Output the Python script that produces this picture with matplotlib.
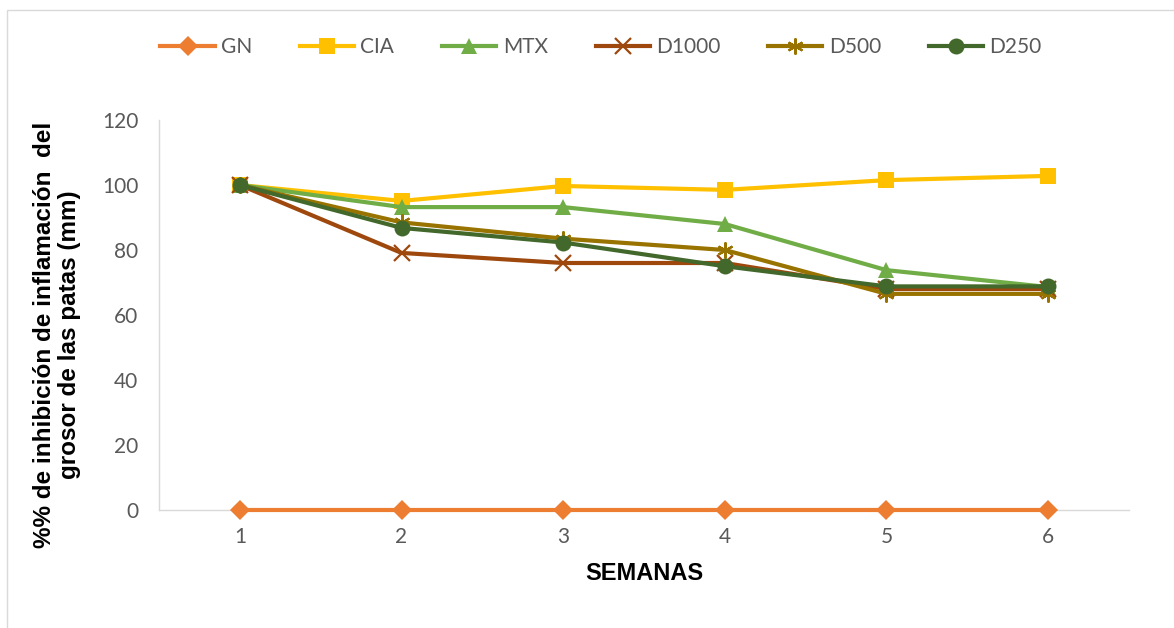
import matplotlib
matplotlib.use("Agg")
import matplotlib.pyplot as plt
from matplotlib.patches import Rectangle

weeks = [1, 2, 3, 4, 5, 6]
series_names = ["GN", "CIA", "MTX", "D1000", "D500", "D250"]
gn = [0, 0, 0, 0, 0, 0]
cia = [100, 95.1, 99.7, 98.5, 101.5, 102.8]
mtx = [100, 93.2, 93.2, 88.0, 73.8, 68.6]
d1000 = [100, 79.1, 76.0, 76.0, 68.0, 68.0]
d500 = [100, 88.5, 83.5, 80.0, 66.5, 66.5]
d250 = [100, 86.8, 82.3, 75.0, 68.8, 68.8]
y_ticks = [0, 20, 40, 60, 80, 100, 120]

colors = ["#ED7D31", "#FFC000", "#70AD47", "#9E480E", "#997300", "#43682B"]
markers = ["D", "s", "^", "x", (6, 2, 0), "o"]
msizes = [10, 11, 11, 12, 11.5, 11.5]

W, H = 1174, 628
fig = plt.figure(figsize=(W / 100, H / 100), dpi=100)
fig.patches.append(Rectangle((7 / W, -0.1), 1.2, 1 - 10 / H + 0.1, transform=fig.transFigure,
                             fill=False, edgecolor="#D9D9D9", linewidth=1))

ax = fig.add_axes([159 / W, (H - 510) / H, (1129 - 159) / W, 390 / H])

data = [gn, cia, mtx, d1000, d500, d250]
for i, (name, vals, c, m, ms) in enumerate(zip(series_names, data, colors, markers, msizes)):
    line_marker = m in ("x",) or isinstance(m, tuple)
    ax.plot(weeks, vals, color=c, linewidth=3, label=name, marker=m,
            markersize=ms, markeredgecolor=c, markerfacecolor=c,
            markeredgewidth=1.6 if line_marker else 0, clip_on=False, zorder=3 + i)

ax.set_xlim(0.5, 6.5)
ax.set_ylim(0, 120)
ax.set_xticks(weeks)
ax.set_yticks(y_ticks)
for s in ["top", "right"]:
    ax.spines[s].set_visible(False)
for s in ["left", "bottom"]:
    ax.spines[s].set_color("#D9D9D9")
    ax.spines[s].set_linewidth(1)
    ax.spines[s].set_zorder(1)
ax.tick_params(length=0, labelsize=15, labelcolor="#595959")
ax.tick_params(axis="x", pad=12)
ax.tick_params(axis="y", pad=15)
for lab in ax.get_xticklabels() + ax.get_yticklabels():
    lab.set_fontfamily("Lato")
ax.patch.set_visible(False)

ax.set_xlabel("SEMANAS", fontfamily="Liberation Sans", fontweight="bold",
              fontsize=17, labelpad=11)
fig.text(57 / W, 1 - 335 / H,
         "%% de inhibición de inflamación  del\ngrosor de las patas (mm)",
         rotation=90, ha="center", va="center", fontfamily="Liberation Sans",
         fontweight="bold", fontsize=17.5, linespacing=1.12)

leg = fig.legend(loc="center", bbox_to_anchor=(601 / W, 1 - 47 / H), ncol=6,
                 frameon=False, prop={"family": "Lato", "size": 15},
                 handlelength=2.6, columnspacing=2.3, handletextpad=0.3)
for t in leg.get_texts():
    t.set_color("#595959")

fig.savefig("out.png", dpi=100)
